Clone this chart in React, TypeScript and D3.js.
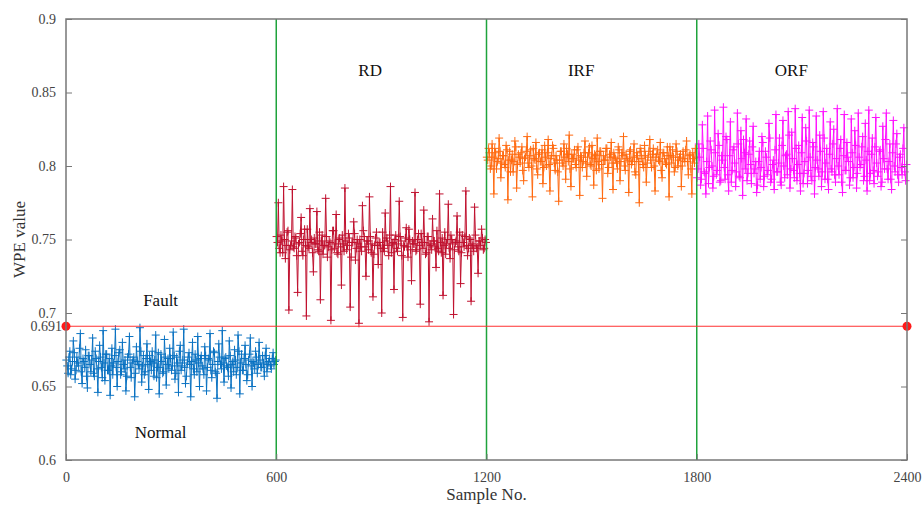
import React, { useEffect, useRef } from 'react';
import * as d3 from 'd3';

// WPE values per condition.
// "A" and "B" arrays are alternate samples (A at even, B at odd positions), 2.5 samples apart
const normalA = [
  0.668,0.659,0.674,0.662,0.681,0.655,0.670,0.664,0.686,0.652,
  0.667,0.675,0.649,0.671,0.660,0.683,0.657,0.669,0.646,0.678,
  0.663,0.688,0.654,0.672,0.661,0.644,0.676,0.666,0.689,0.650,
  0.673,0.658,0.680,0.662,0.647,0.670,0.684,0.656,0.668,0.643,
  0.677,0.665,0.690,0.653,0.671,0.660,0.679,0.648,0.667,0.674,
  0.657,0.685,0.663,0.645,0.672,0.659,0.682,0.651,0.669,0.676,
  0.661,0.687,0.655,0.670,0.646,0.678,0.664,0.689,0.652,0.666,
  0.673,0.643,0.680,0.658,0.668,0.684,0.650,0.671,0.662,0.677,
  0.647,0.669,0.686,0.656,0.674,0.660,0.642,0.679,0.665,0.688,
  0.653,0.670,0.663,0.681,0.649,0.667,0.675,0.658,0.685,0.645,
  0.672,0.661,0.678,0.654,0.668,0.683,0.650,0.666,0.674,0.659,
  0.680,0.663,0.671,0.657,0.676,0.665,0.669,0.662,0.673,0.667
];
const normalB = [
  0.664,0.670,0.658,0.667,0.673,0.661,0.666,0.676,0.660,0.669,
  0.663,0.657,0.671,0.665,0.668,0.659,0.674,0.662,0.667,0.670,
  0.656,0.666,0.672,0.661,0.669,0.664,0.658,0.671,0.663,0.667,
  0.675,0.660,0.665,0.668,0.657,0.672,0.663,0.666,0.670,0.659,
  0.667,0.662,0.674,0.664,0.658,0.669,0.665,0.671,0.661,0.666,
  0.668,0.656,0.673,0.663,0.667,0.660,0.670,0.665,0.662,0.669,
  0.664,0.671,0.659,0.666,0.674,0.661,0.668,0.663,0.657,0.670,
  0.665,0.667,0.662,0.672,0.660,0.666,0.669,0.664,0.658,0.671,
  0.663,0.668,0.661,0.665,0.673,0.659,0.667,0.670,0.662,0.666,
  0.669,0.664,0.657,0.671,0.665,0.660,0.668,0.663,0.674,0.666,
  0.661,0.669,0.665,0.658,0.672,0.664,0.667,0.662,0.670,0.665,
  0.668,0.663,0.666,0.671,0.660,0.667,0.664,0.669,0.665,0.668
];
const rdA = [
  0.752,0.775,0.741,0.749,0.786,0.737,0.755,0.702,0.746,0.784,
  0.744,0.751,0.714,0.748,0.765,0.739,0.757,0.698,0.745,0.771,
  0.750,0.728,0.747,0.769,0.742,0.709,0.753,0.746,0.778,0.738,
  0.749,0.695,0.756,0.744,0.767,0.740,0.751,0.719,0.747,0.785,
  0.743,0.754,0.704,0.748,0.762,0.736,0.750,0.693,0.745,0.773,
  0.752,0.725,0.749,0.779,0.741,0.711,0.746,0.755,0.733,0.748,
  0.700,0.744,0.768,0.751,0.739,0.786,0.747,0.716,0.753,0.742,
  0.776,0.749,0.697,0.745,0.758,0.738,0.750,0.722,0.747,0.782,
  0.743,0.754,0.706,0.748,0.770,0.740,0.752,0.694,0.746,0.764,
  0.749,0.731,0.744,0.781,0.741,0.712,0.755,0.747,0.774,0.737,
  0.750,0.699,0.748,0.766,0.742,0.720,0.753,0.745,0.783,0.739,
  0.751,0.708,0.746,0.772,0.744,0.727,0.749,0.757,0.743,0.750
];
const rdB = [
  0.748,0.744,0.753,0.741,0.750,0.746,0.756,0.743,0.749,0.745,
  0.752,0.739,0.747,0.754,0.742,0.750,0.746,0.757,0.744,0.748,
  0.741,0.751,0.747,0.743,0.755,0.749,0.740,0.746,0.752,0.745,
  0.748,0.743,0.756,0.747,0.741,0.750,0.745,0.753,0.742,0.749,
  0.746,0.751,0.738,0.748,0.754,0.744,0.747,0.750,0.742,0.756,
  0.745,0.749,0.743,0.752,0.747,0.740,0.751,0.746,0.748,0.744,
  0.755,0.742,0.749,0.746,0.753,0.741,0.748,0.750,0.744,0.747,
  0.752,0.739,0.746,0.751,0.745,0.757,0.743,0.749,0.747,0.742,
  0.750,0.746,0.754,0.744,0.748,0.741,0.752,0.747,0.743,0.749,
  0.745,0.756,0.742,0.748,0.751,0.746,0.740,0.750,0.744,0.753,
  0.747,0.743,0.749,0.745,0.755,0.741,0.748,0.752,0.746,0.744,
  0.750,0.747,0.742,0.753,0.745,0.749,0.746,0.751,0.744,0.748
];
const irfA = [
  0.806,0.812,0.798,0.815,0.781,0.809,0.803,0.819,0.792,0.807,
  0.801,0.814,0.777,0.810,0.804,0.796,0.817,0.785,0.808,0.802,
  0.813,0.790,0.806,0.820,0.799,0.811,0.779,0.805,0.816,0.794,
  0.809,0.803,0.788,0.814,0.800,0.818,0.783,0.807,0.812,0.797,
  0.804,0.776,0.810,0.802,0.815,0.791,0.808,0.821,0.786,0.805,
  0.811,0.799,0.813,0.780,0.806,0.803,0.817,0.793,0.809,0.801,
  0.814,0.787,0.807,0.819,0.798,0.810,0.778,0.804,0.812,0.795,
  0.808,0.816,0.784,0.806,0.802,0.813,0.790,0.809,0.820,0.797,
  0.805,0.782,0.811,0.803,0.815,0.794,0.807,0.775,0.810,0.801,
  0.814,0.789,0.806,0.818,0.799,0.812,0.783,0.808,0.804,0.816,
  0.792,0.809,0.802,0.813,0.779,0.807,0.811,0.796,0.815,0.800,
  0.806,0.786,0.810,0.803,0.817,0.794,0.808,0.781,0.805,0.812
];
const irfB = [
  0.804,0.809,0.800,0.806,0.812,0.798,0.805,0.810,0.802,0.807,
  0.799,0.811,0.804,0.796,0.808,0.803,0.813,0.801,0.806,0.809,
  0.797,0.805,0.810,0.802,0.807,0.800,0.812,0.804,0.798,0.808,
  0.803,0.811,0.799,0.806,0.809,0.801,0.805,0.814,0.802,0.807,
  0.796,0.804,0.810,0.800,0.806,0.812,0.803,0.798,0.808,0.805,
  0.801,0.811,0.804,0.807,0.799,0.809,0.802,0.806,0.813,0.800,
  0.805,0.808,0.797,0.803,0.810,0.801,0.807,0.804,0.812,0.799,
  0.806,0.802,0.809,0.805,0.798,0.811,0.803,0.807,0.800,0.808,
  0.804,0.810,0.801,0.806,0.796,0.809,0.803,0.812,0.805,0.799,
  0.807,0.802,0.810,0.804,0.808,0.800,0.806,0.811,0.803,0.797,
  0.809,0.805,0.801,0.807,0.813,0.802,0.806,0.799,0.810,0.804,
  0.808,0.800,0.805,0.811,0.803,0.807,0.798,0.809,0.802,0.806
];
const orfA = [
  0.792,0.815,0.787,0.828,0.796,0.781,0.834,0.799,0.811,0.785,
  0.838,0.794,0.822,0.789,0.807,0.840,0.791,0.818,0.783,0.830,
  0.797,0.813,0.786,0.836,0.793,0.824,0.780,0.809,0.832,0.795,
  0.817,0.788,0.827,0.798,0.782,0.803,0.791,0.820,0.786,0.810,
  0.794,0.829,0.789,0.801,0.784,0.835,0.796,0.819,0.787,0.831,
  0.792,0.808,0.837,0.785,0.823,0.797,0.839,0.790,0.814,0.783,
  0.833,0.795,0.826,0.788,0.838,0.793,0.816,0.781,0.834,0.798,
  0.821,0.786,0.837,0.791,0.812,0.784,0.830,0.796,0.825,0.789,
  0.839,0.794,0.818,0.782,0.835,0.797,0.806,0.787,0.832,0.792,
  0.824,0.785,0.836,0.799,0.813,0.790,0.829,0.783,0.838,0.795,
  0.819,0.788,0.833,0.793,0.810,0.786,0.827,0.798,0.836,0.791,
  0.815,0.784,0.831,0.796,0.822,0.789,0.808,0.794,0.826,0.790
];
const orfB = [
  0.798,0.806,0.791,0.812,0.795,0.803,0.788,0.817,0.800,0.793,
  0.809,0.797,0.814,0.790,0.804,0.799,0.820,0.794,0.807,0.789,
  0.811,0.802,0.796,0.815,0.792,0.805,0.818,0.798,0.790,0.808,
  0.801,0.813,0.795,0.803,0.787,0.810,0.799,0.816,0.793,0.806,
  0.797,0.819,0.791,0.804,0.811,0.796,0.802,0.789,0.814,0.800,
  0.807,0.794,0.821,0.798,0.805,0.792,0.812,0.801,0.795,0.809,
  0.788,0.803,0.817,0.797,0.806,0.790,0.813,0.799,0.804,0.793,
  0.810,0.796,0.819,0.802,0.791,0.808,0.798,0.815,0.794,0.805,
  0.800,0.812,0.789,0.807,0.797,0.816,0.803,0.792,0.809,0.799,
  0.814,0.795,0.806,0.801,0.820,0.793,0.804,0.810,0.790,0.808,
  0.797,0.813,0.802,0.796,0.811,0.789,0.805,0.818,0.798,0.803,
  0.791,0.809,0.800,0.815,0.794,0.806,0.799,0.812,0.796,0.801
];

const segStarts = [0, 600, 1200, 1800];
const segNames = ['Normal', 'RD', 'IRF', 'ORF'];
const segColors = ['#0a72c2', '#c0112f', '#ff6a10', '#ff10ff'];
const xTicks = [0, 600, 1200, 1800, 2400];
const yTicks = [0.6, 0.65, 0.7, 0.75, 0.8, 0.85, 0.9];
const threshold = 0.691;
const step = 2.5;

export default function App() {
  const ref = useRef<SVGSVGElement>(null);

  useEffect(() => {
    const W = 924, H = 506;
    const m = { top: 19, right: 17, bottom: 46, left: 66 };
    const svg = d3.select(ref.current);
    svg.selectAll('*').remove();

    const x = d3.scaleLinear().domain([0, 2400]).range([m.left, W - m.right]);
    const y = d3.scaleLinear().domain([0.6, 0.9]).range([H - m.bottom, m.top]);
    const font = '"Liberation Serif", "Times New Roman", serif';

    const all = [[normalA, normalB], [rdA, rdB], [irfA, irfB], [orfA, orfB]]
      .map(([a, b]) => d3.merge(a.map((v, i) => [v, b[i]])));
    const line = d3.line<[number, number]>().x(d => x(d[0])).y(d => y(d[1]));

    all.forEach((vals, k) => {
      const pts: [number, number][] = vals.map((v, i) => [segStarts[k] + i * step + 1, v]);
      const g = svg.append('g');
      g.append('path').attr('d', line(pts)).attr('fill', 'none')
        .attr('stroke', segColors[k]).attr('stroke-width', 1);
      g.selectAll('path.mk').data(pts).enter().append('path').attr('class', 'mk')
        .attr('d', d => `M${x(d[0]) - 4},${y(d[1])}h8M${x(d[0])},${y(d[1]) - 4}v8`)
        .attr('stroke', segColors[k]).attr('stroke-width', 1);
    });

    // boundaries between conditions
    [600, 1200, 1800].forEach(s => {
      svg.append('line').attr('x1', x(s)).attr('x2', x(s)).attr('y1', y(0.9)).attr('y2', y(0.6))
        .attr('stroke', '#1fa33c').attr('stroke-width', 1.5);
    });

    // threshold
    svg.append('line').attr('x1', x(0)).attr('x2', x(2400)).attr('y1', y(threshold)).attr('y2', y(threshold))
      .attr('stroke', '#ff3030').attr('stroke-width', 1.2);
    [0, 2400].forEach(s => {
      svg.append('circle').attr('cx', x(s)).attr('cy', y(threshold)).attr('r', 4.5).attr('fill', '#ff1a1a');
    });

    // frame
    svg.append('rect').attr('x', m.left).attr('y', m.top)
      .attr('width', W - m.left - m.right).attr('height', H - m.top - m.bottom)
      .attr('fill', 'none').attr('stroke', '#777').attr('stroke-width', 1.5);

    const axL = svg.append('g').attr('transform', `translate(${m.left},0)`)
      .call(d3.axisLeft(y).tickValues(yTicks).tickSize(-6).tickPadding(10).tickFormat(d => String(+d)));
    const axR = svg.append('g').attr('transform', `translate(${W - m.right},0)`)
      .call(d3.axisRight(y).tickValues(yTicks).tickSize(-6).tickFormat(() => ''));
    const axB = svg.append('g').attr('transform', `translate(0,${H - m.bottom})`)
      .call(d3.axisBottom(x).tickValues(xTicks).tickSize(-6).tickPadding(12).tickFormat(d => String(d)));
    [axL, axR, axB].forEach(a => {
      a.select('.domain').remove();
      a.selectAll('line').attr('stroke', '#777');
      a.selectAll('text').attr('font-family', font).attr('font-size', 14).attr('fill', '#444');
    });

    svg.append('text').attr('x', m.left - 4).attr('y', y(threshold) + 5).attr('text-anchor', 'end')
      .attr('font-family', font).attr('font-size', 14).attr('fill', '#444').text(String(threshold));

    svg.append('text').attr('transform', `translate(25,${(m.top + H - m.bottom) / 2}) rotate(-90)`)
      .attr('text-anchor', 'middle').attr('font-family', font).attr('font-size', 17).attr('fill', '#333')
      .text('WPE value');
    svg.append('text').attr('x', x(1200)).attr('y', 500).attr('text-anchor', 'middle')
      .attr('font-family', font).attr('font-size', 17).attr('fill', '#333').text('Sample No.');

    const lab = (t: string, sx: number, vy: number) =>
      svg.append('text').attr('x', x(sx)).attr('y', y(vy)).attr('text-anchor', 'middle')
        .attr('font-family', font).attr('font-size', 17).attr('fill', '#111').text(t);
    lab('Fault', 270, 0.705);
    lab(segNames[0], 270, 0.615);
    lab(segNames[1], 868, 0.861);
    lab(segNames[2], 1470, 0.861);
    lab(segNames[3], 2070, 0.861);
  }, []);

  return (
    <svg ref={ref} width={924} height={506}
      style={{ position: 'absolute', left: 0, top: 0, background: '#fff' }} />
  );
}
